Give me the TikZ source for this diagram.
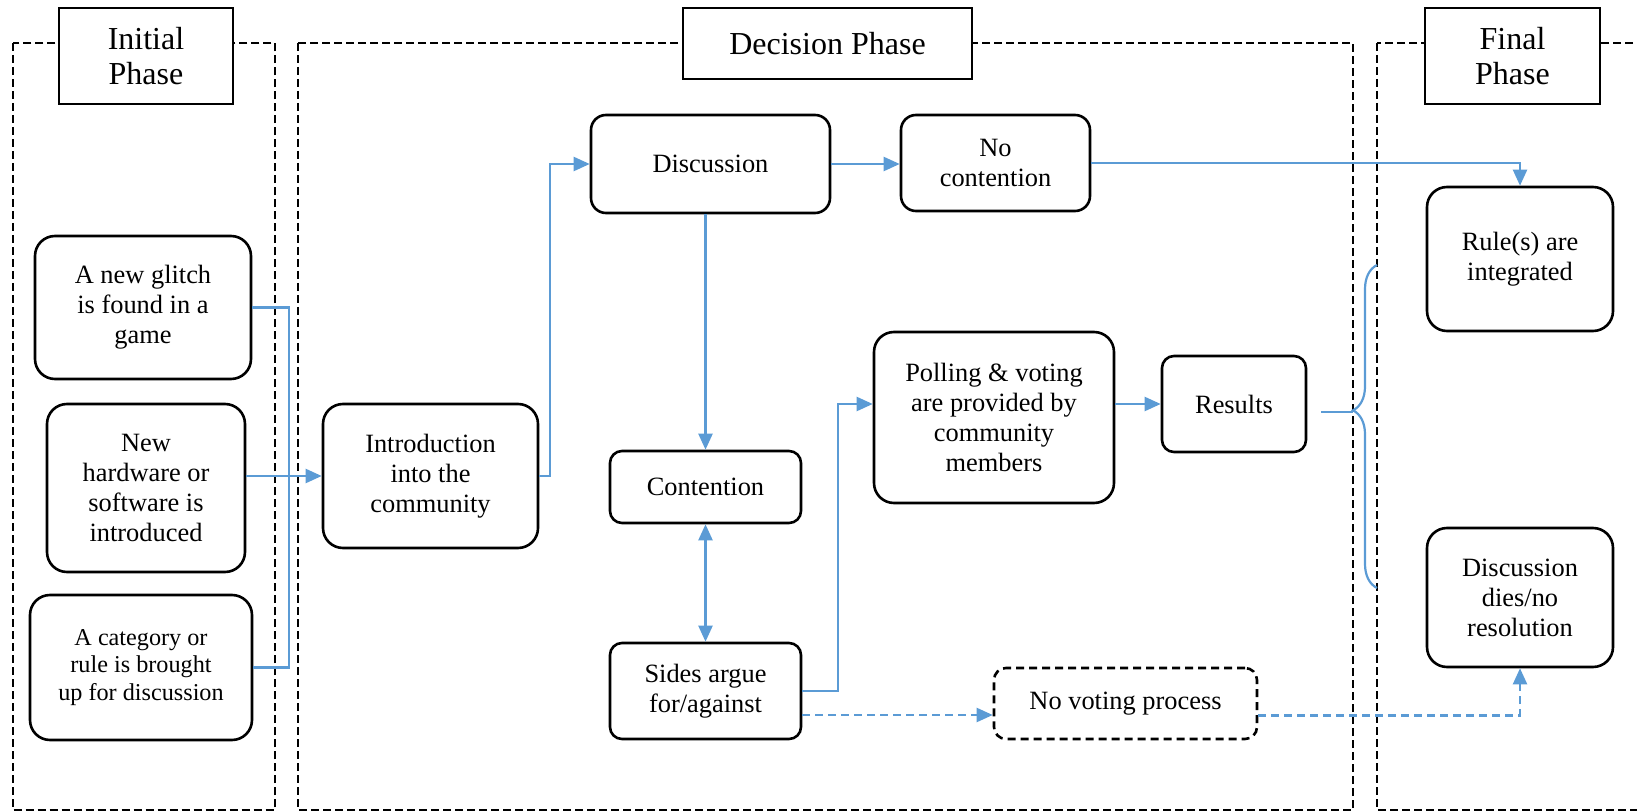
\documentclass[tikz,border=0pt]{standalone}
\usepackage{fontspec}
\setmainfont{Liberation Serif}
\usetikzlibrary{arrows.meta,decorations.pathreplacing}
\definecolor{lineBlue}{RGB}{91,155,213}
\begin{document}
\begin{tikzpicture}[x=0.5pt, y=-0.5pt,
    boxStyle/.style={draw, line width=1.3pt, rounded corners=9pt, align=center, inner sep=0pt, font=\fontsize{13.2}{15}\selectfont},
    titleStyle/.style={draw, fill=white, line width=0.8pt, align=center, inner sep=0pt, font=\fontsize{16}{17.5}\selectfont},
    phaseStyle/.style={draw, line width=1.2pt, dash pattern=on 4pt off 2pt},
    lineStyle/.style={draw=lineBlue, line width=1.1pt},
    arrowStyle/.style={lineStyle, -{Triangle[length=8pt,width=7pt]}},
    blueDash/.style={dash pattern=on 4pt off 2.5pt}]
    \useasboundingbox (0,0) rectangle (1637,812);

    % phases
    \draw[phaseStyle] (12.7,43) rectangle (275,810);
    \draw[phaseStyle] (298,43) rectangle (1353,810);
    \draw[phaseStyle] (1377,43) rectangle (1680,810);
    \node[titleStyle, minimum width=87pt, minimum height=48pt](initTitle) at (146,56) {Initial\\Phase};
    \node[titleStyle, minimum width=144.5pt, minimum height=35.5pt](decTitle) at (827.5,43.5) {Decision Phase};
    \node[titleStyle, minimum width=87.5pt, minimum height=48pt](finalTitle) at (1512.5,56) {Final\\Phase};

    % initial phase
    \node[boxStyle, minimum width=108pt, minimum height=71.5pt, rounded corners=10pt](glitch) at (143,307.5) {A new glitch\\is found in a\\game};
    \node[boxStyle, minimum width=99pt, minimum height=84pt, rounded corners=10pt](hardware) at (146,488) {New\\hardware or\\software is\\introduced};
    \node[boxStyle, minimum width=111pt, minimum height=72.5pt, rounded corners=10pt, font=\fontsize{12.1}{13.75}\selectfont](category) at (141,667.5) {A category or\\rule is brought\\up for discussion};

    % decision phase
    \node[boxStyle, minimum width=107.5pt, minimum height=72pt, rounded corners=10pt](intro) at (430.5,476) {Introduction\\into the\\community};
    \node[boxStyle, minimum width=119.5pt, minimum height=49pt, rounded corners=7.5pt](discussion) at (710.5,164) {Discussion};
    \node[boxStyle, minimum width=94.5pt, minimum height=48pt, rounded corners=7.5pt](noContention) at (995.5,163) {No\\contention};
    \node[boxStyle, minimum width=95.5pt, minimum height=36pt, rounded corners=6pt](contention) at (705.5,487) {Contention};
    \node[boxStyle, minimum width=95.5pt, minimum height=48pt, rounded corners=6pt](sides) at (705.5,691) {Sides argue\\for/against};
    \node[boxStyle, minimum width=120pt, minimum height=85.5pt, rounded corners=10pt](polling) at (994,417.5) {Polling \& voting\\are provided by\\community\\members};
    \node[boxStyle, minimum width=72pt, minimum height=48pt, rounded corners=6pt](results) at (1234,404) {Results};
    \node[boxStyle, minimum width=131.5pt, minimum height=35.5pt, rounded corners=6pt, dash pattern=on 4pt off 2.5pt](noVote) at (1125.5,703.5) {No voting process};

    % final phase
    \node[boxStyle, minimum width=93pt, minimum height=72pt, rounded corners=10pt](rule) at (1520,259) {Rule(s) are\\integrated};
    \node[boxStyle, minimum width=93pt, minimum height=69.5pt, rounded corners=10pt](dies) at (1520,597.5) {Discussion\\dies/no\\resolution};
    \coordinate (braceTip) at (1353,412);

    \draw[lineStyle] (glitch.east) -- ++(37,0) |- (category.east);
    \draw[arrowStyle] (hardware.east |- intro) -- (intro.west);
    \draw[arrowStyle] (intro.east) -- ++(11,0) |- (discussion.west);
    \draw[arrowStyle] (discussion.east) -- (discussion.east -| noContention.west);
    \draw[arrowStyle] (noContention.east) -| (rule.north);
    \draw[arrowStyle] (contention.north |- discussion.south) -- (contention.north);
    \draw[lineStyle, {Triangle[length=8pt,width=7pt]}-{Triangle[length=8pt,width=7pt]}] (contention.south) -- (sides.north);
    \draw[arrowStyle] (sides.east) -- ++(36,0) |- (polling.west |- results);
    \draw[arrowStyle] (polling.east |- results) -- (results.west);
    \draw[arrowStyle, blueDash] ([yshift=-12pt]sides.east) -- ([yshift=-12pt]sides.east -| noVote.west);
    \draw[arrowStyle, blueDash] ([yshift=-6pt]noVote.east) -| (dies.south);
    \draw[lineStyle] ([xshift=7pt,yshift=-4pt]results.east) -- (braceTip);
    \draw[lineStyle, decorate, decoration={brace, amplitude=12pt, aspect=0.55}] (1377,588) -- (1377,265);
\end{tikzpicture}
\end{document}
